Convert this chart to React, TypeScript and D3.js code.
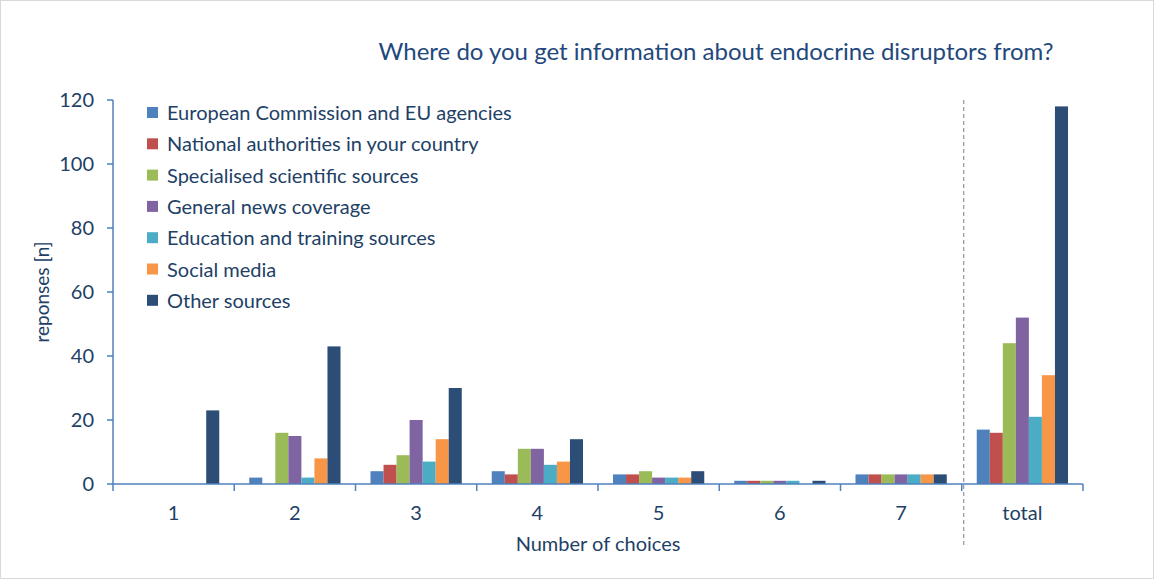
import * as d3 from "d3";

const categories = ["1", "2", "3", "4", "5", "6", "7", "total"];
const seriesNames = [
  "European Commission and EU agencies",
  "National authorities in your country",
  "Specialised scientific sources",
  "General news coverage",
  "Education and training sources",
  "Social media",
  "Other sources",
];
const seriesColors = ["#4f81bd", "#c0504d", "#9bbb59", "#8064a2", "#4bacc6", "#f79646", "#2c4d75"];

// one array per series, in category order
const euAgencies = [0, 2, 4, 4, 3, 1, 3, 17];
const nationalAuthorities = [0, 0, 6, 3, 3, 1, 3, 16];
const scientificSources = [0, 16, 9, 11, 4, 1, 3, 44];
const newsCoverage = [0, 15, 20, 11, 2, 1, 3, 52];
const educationSources = [0, 2, 7, 6, 2, 1, 3, 21];
const socialMedia = [0, 8, 14, 7, 2, 0, 3, 34];
const otherSources = [23, 43, 30, 14, 4, 1, 3, 118];

const seriesValues = [
  euAgencies,
  nationalAuthorities,
  scientificSources,
  newsCoverage,
  educationSources,
  socialMedia,
  otherSources,
];

const yTicks = [0, 20, 40, 60, 80, 100, 120];

const W = 1154;
const H = 579;
const margin = { top: 100, right: 71, bottom: 95, left: 113 };
const textColor = "#223f66";
const titleColor = "#1f497d";
const axisColor = "#4f81bd";
const font = "Lato, 'Open Sans', sans-serif";

export default function App() {
  const plotW = W - margin.left - margin.right;
  const plotH = H - margin.top - margin.bottom;

  const x = d3.scaleBand().domain(categories).range([0, plotW]);
  // bars sit side by side, with a gap of a little over one bar width at each end of a group
  const inner = d3
    .scaleBand<number>()
    .domain(d3.range(seriesNames.length))
    .range([0, x.bandwidth()])
    .paddingInner(0)
    .paddingOuter(1.15);
  const y = d3.scaleLinear().domain([0, 120]).range([plotH, 0]);

  const boundaries = categories.map((c) => x(c)!).concat([plotW]);
  const dashX = x("total")! + 2;

  return (
    <div style={{ position: "absolute", left: 0, top: 0 }}>
      <svg width={W} height={H} style={{ display: "block", fontFamily: font }}>
        <rect x={0.5} y={0.5} width={W - 1} height={H - 1} fill="#fff" stroke="#d9d9d9" />
        <text x={716} y={60} textAnchor="middle" fontSize={24} fill={titleColor}>
          Where do you get information about endocrine disruptors from?
        </text>

        <g transform={`translate(${margin.left},${margin.top})`}>
          {/* bars */}
          {seriesValues.map((vals, si) => (
            <g key={si} fill={seriesColors[si]}>
              {vals.map((v, ci) =>
                v > 0 ? (
                  <rect
                    key={ci}
                    x={x(categories[ci])! + inner(si)!}
                    y={y(v)}
                    width={inner.bandwidth()}
                    height={plotH - y(v)}
                  />
                ) : null
              )}
            </g>
          ))}

          {/* y axis */}
          <line x1={0} x2={0} y1={0} y2={plotH} stroke={axisColor} strokeWidth={1.5} />
          {yTicks.map((t) => (
            <g key={t} transform={`translate(0,${y(t)})`}>
              <line x1={-6} x2={0} stroke={axisColor} strokeWidth={1.5} />
              <text x={-19} dy="0.35em" textAnchor="end" fontSize={20} fill={textColor}>
                {t}
              </text>
            </g>
          ))}

          {/* x axis */}
          <line x1={0} x2={plotW} y1={plotH} y2={plotH} stroke={axisColor} strokeWidth={1.5} />
          {boundaries.map((b, i) => (
            <line key={i} x1={b} x2={b} y1={plotH} y2={plotH + 7} stroke={axisColor} strokeWidth={1.5} />
          ))}
          {categories.map((c) => (
            <text
              key={c}
              x={x(c)! + x.bandwidth() / 2}
              y={plotH + 36}
              textAnchor="middle"
              fontSize={20}
              fill={textColor}
            >
              {c}
            </text>
          ))}

          <line
            x1={dashX}
            x2={dashX}
            y1={0}
            y2={plotH + 64}
            stroke="#7f7f7f"
            strokeWidth={1}
            strokeDasharray="4,3"
          />

          <text x={485} y={plotH + 67} textAnchor="middle" fontSize={20} fill={textColor}>
            Number of choices
          </text>
        </g>

        <text
          transform={`translate(49,292) rotate(-90)`}
          textAnchor="middle"
          fontSize={19}
          fill={textColor}
        >
          reponses [n]
        </text>

        {/* legend */}
        {seriesNames.map((name, i) => (
          <g key={name} transform={`translate(147,${113 + i * 31.3})`}>
            <rect x={0} y={-6} width={11} height={11} fill={seriesColors[i]} />
            <text x={20} dy="0.35em" fontSize={20} fill={textColor}>
              {name}
            </text>
          </g>
        ))}
      </svg>
    </div>
  );
}
